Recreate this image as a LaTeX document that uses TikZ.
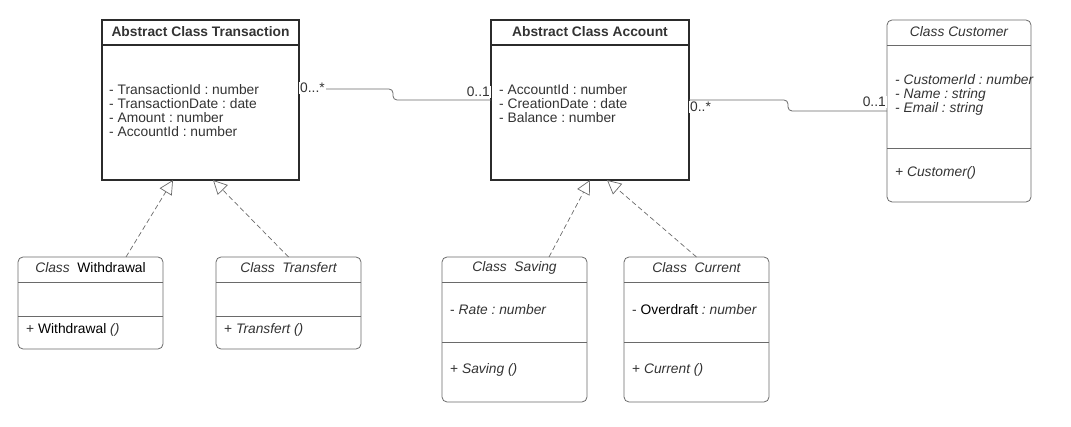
\documentclass[tikz,border=0pt]{standalone}
\usepackage{fontspec}
\setmainfont{Liberation Sans}
\usetikzlibrary{arrows.meta, positioning}
\definecolor{umlline}{HTML}{2B2B2B}
\definecolor{umlgray}{HTML}{6A6A6A}
\definecolor{umltext}{HTML}{333333}
\frenchspacing

\begin{document}
\begin{tikzpicture}[
    x=1pt, y=-1pt,
    every node/.style={font=\fontsize{13.8}{14}\selectfont, text=umltext},
    abstractbox/.style={rectangle, draw=umlline, line width=1.3pt,
                        anchor=north west, outer sep=0pt, inner sep=0pt},
    classbox/.style={rectangle, rounded corners=5pt, draw=umlgray, line width=0.8pt,
                     anchor=north west, outer sep=0pt, inner sep=0pt},
    members/.style={anchor=west, align=left, inner sep=0pt},
    mult/.style={inner sep=1pt, fill=white},
    realize/.style={draw=umlgray, dash pattern=on 5pt off 3pt, line width=0.7pt,
                    -{Triangle[open, length=14pt, width=14pt]}},
    assoc/.style={draw=umlgray, line width=0.8pt, rounded corners=4pt},
  ]
  \useasboundingbox (0,0) rectangle (1071,427);

  % abstract classes
  \node[abstractbox, minimum width=197pt, minimum height=160pt] (trans) at (102,20) {};
  \draw[umlline, line width=1.3pt] (trans.west |- 0,45) -- (trans.east |- 0,45);
  \node[font=\fontsize{13.8}{14}\selectfont\bfseries] (transT) at (200.5,32) {Abstract Class Transaction};
  \node[members] (transA) at (109,110.5) {- TransactionId : number\\- TransactionDate : date\\- Amount : number\\- AccountId : number};

  \node[abstractbox, minimum width=198pt, minimum height=160pt] (acc) at (491,20) {};
  \draw[umlline, line width=1.3pt] (acc.west |- 0,45) -- (acc.east |- 0,45);
  \node[font=\fontsize{13.8}{14}\selectfont\bfseries] (accT) at (590,32) {Abstract Class Account};
  \node[members] (accA) at (499,104) {- AccountId : number\\- CreationDate : date\\- Balance : number};

  % customer
  \node[classbox, minimum width=144pt, minimum height=182pt] (cust) at (887,20) {};
  \draw[umlgray, line width=0.8pt] (cust.west |- 0,45) -- (cust.east |- 0,45);
  \draw[umlgray, line width=0.8pt] (cust.west |- 0,148) -- (cust.east |- 0,148);
  \node[font=\fontsize{13.8}{14}\selectfont\itshape] (custT) at (959,32) {Class Customer};
  \node[members, font=\fontsize{13.8}{14}\selectfont\itshape] (custA) at (895,95) {- CustomerId : number\\- Name : string\\- Email : string};
  \node[members, font=\fontsize{13.8}{14}\selectfont\itshape] (custM) at (895,173) {+ Customer()};

  % concrete classes
  \node[classbox, minimum width=145pt, minimum height=92pt] (wdr) at (18,257) {};
  \draw[umlgray, line width=0.8pt] (wdr.west |- 0,282) -- (wdr.east |- 0,282);
  \draw[umlgray, line width=0.8pt] (wdr.west |- 0,316) -- (wdr.east |- 0,316);
  \node (wdrT) at (90.5,268) {\textit{Class}\ \ \textcolor{black}{Withdrawal}};
  \node[members] (wdrM) at (26,330) {+ \textcolor{black}{Withdrawal} \textit{()}};

  \node[classbox, minimum width=145pt, minimum height=92pt] (trf) at (216,257) {};
  \draw[umlgray, line width=0.8pt] (trf.west |- 0,282) -- (trf.east |- 0,282);
  \draw[umlgray, line width=0.8pt] (trf.west |- 0,316) -- (trf.east |- 0,316);
  \node[font=\fontsize{13.8}{14}\selectfont\itshape] (trfT) at (288.5,268) {Class\ \ Transfert};
  \node[members] (trfM) at (224,330) {+ \textit{Transfert ()}};

  \node[classbox, minimum width=145pt, minimum height=145pt] (sav) at (442,257) {};
  \draw[umlgray, line width=0.8pt] (sav.west |- 0,282) -- (sav.east |- 0,282);
  \draw[umlgray, line width=0.8pt] (sav.west |- 0,342) -- (sav.east |- 0,342);
  \node[font=\fontsize{13.8}{14}\selectfont\itshape] (savT) at (514.5,268) {Class\ \ Saving};
  \node[members] (savA) at (450,310) {- \textit{Rate : number}};
  \node[members] (savM) at (450,370) {+ \textit{Saving ()}};

  \node[classbox, minimum width=145pt, minimum height=145pt] (cur) at (624,257) {};
  \draw[umlgray, line width=0.8pt] (cur.west |- 0,282) -- (cur.east |- 0,282);
  \draw[umlgray, line width=0.8pt] (cur.west |- 0,342) -- (cur.east |- 0,342);
  \node[font=\fontsize{13.8}{14}\selectfont\itshape] (curT) at (696.5,268) {Class\ \ Current};
  \node[members] (curA) at (632,310) {- \textcolor{black}{Overdraft} \textit{: number}};
  \node[members] (curM) at (632,370) {+ \textit{Current ()}};

  % associations
  \draw[assoc] ([yshift=11pt]trans.east) -- ++(94,0) |- (acc.west);
  \draw[assoc] (acc.east) -- ++(99,0) |- (cust.west);
  \node[mult, anchor=west] (m1) at (299,88) {0...*};
  \node[mult, anchor=south east] (m2) at ([yshift=2pt]acc.west) {0..1};
  \node[mult, anchor=north west] (m3) at ([yshift=-1pt]acc.east) {0..*};
  \node[mult, anchor=south east] (m4) at ([yshift=3pt]cust.west) {0..1};

  % realizations
  \draw[realize] ([xshift=35.5pt]wdr.north) -- ([xshift=-27.5pt]trans.south);
  \draw[realize] (trf.north) -- ([xshift=12.5pt]trans.south);
  \draw[realize] ([xshift=34.5pt]sav.north) -- (acc.south);
  \draw[realize] (cur.north) -- ([xshift=17pt]acc.south);
\end{tikzpicture}
\end{document}
